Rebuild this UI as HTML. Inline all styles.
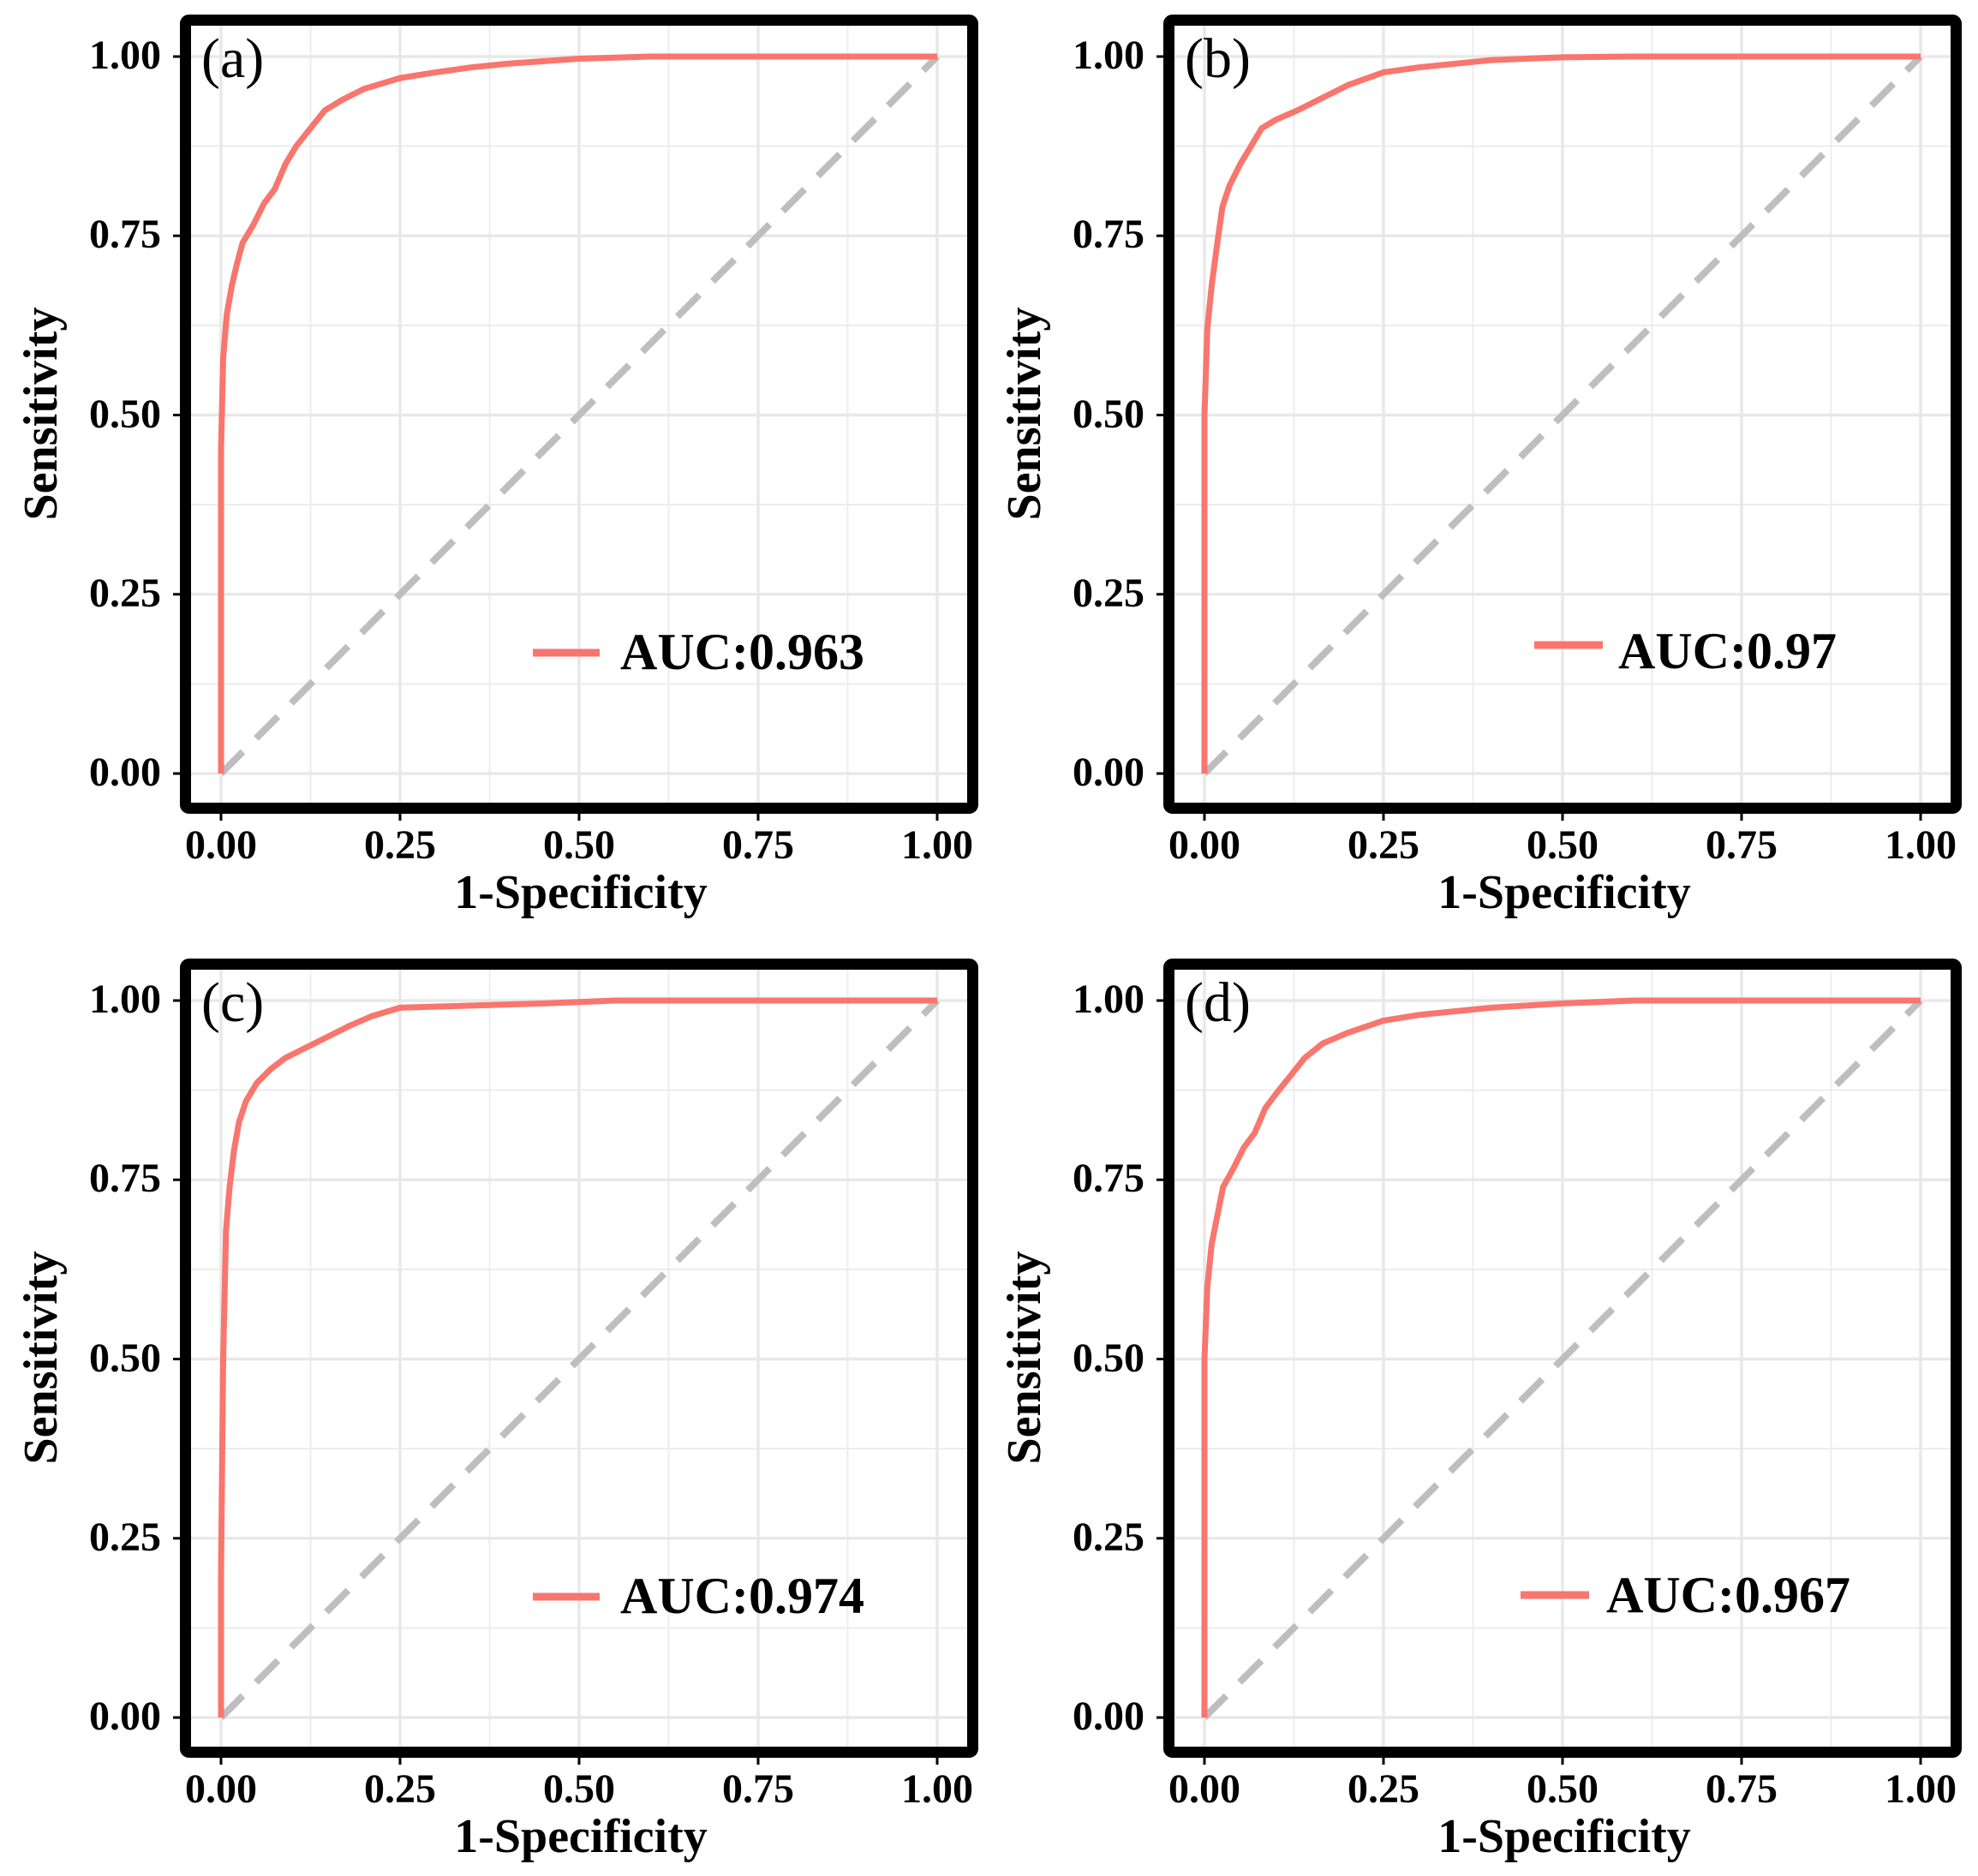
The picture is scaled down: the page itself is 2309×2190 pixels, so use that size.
<!DOCTYPE html>
<html><head><meta charset="utf-8"><style>
html,body{margin:0;padding:0;background:#fff;}
svg{display:block;}
text{font-family:"Liberation Serif","DejaVu Serif",serif;fill:#000;}
.t{font-weight:bold;font-size:48px;}
.ax{font-weight:bold;font-size:56px;}
.lg{font-weight:bold;font-size:60px;}
.pl{font-size:66px;}
</style></head><body>
<svg width="2309" height="2190" viewBox="0 0 2309 2190" xmlns="http://www.w3.org/2000/svg">
<defs>
<g id="frame">
  <rect x="223" y="30" width="906" height="907" fill="#fff"/>
  <g stroke="#ececec" stroke-width="2">
    <line x1="362.5" y1="30" x2="362.5" y2="937"/><line x1="571.5" y1="30" x2="571.5" y2="937"/>
    <line x1="780.5" y1="30" x2="780.5" y2="937"/><line x1="989.5" y1="30" x2="989.5" y2="937"/>
    <line x1="223" y1="798.4" x2="1129" y2="798.4"/><line x1="223" y1="589.1" x2="1129" y2="589.1"/>
    <line x1="223" y1="379.9" x2="1129" y2="379.9"/><line x1="223" y1="170.6" x2="1129" y2="170.6"/>
  </g>
  <g stroke="#e8e8e8" stroke-width="3.5">
    <line x1="258" y1="30" x2="258" y2="937"/><line x1="467" y1="30" x2="467" y2="937"/>
    <line x1="676" y1="30" x2="676" y2="937"/><line x1="885" y1="30" x2="885" y2="937"/>
    <line x1="1094" y1="30" x2="1094" y2="937"/>
    <line x1="223" y1="903" x2="1129" y2="903"/><line x1="223" y1="693.75" x2="1129" y2="693.75"/>
    <line x1="223" y1="484.5" x2="1129" y2="484.5"/><line x1="223" y1="275.25" x2="1129" y2="275.25"/>
    <line x1="223" y1="66" x2="1129" y2="66"/>
  </g>
  <line x1="258" y1="903" x2="1094" y2="66" stroke="#bebebe" stroke-width="8" stroke-dasharray="36 22"/>
  <g stroke="#000" stroke-width="3">
    <line x1="202" y1="903" x2="210" y2="903"/><line x1="202" y1="693.75" x2="210" y2="693.75"/>
    <line x1="202" y1="484.5" x2="210" y2="484.5"/><line x1="202" y1="275.25" x2="210" y2="275.25"/>
    <line x1="202" y1="66" x2="210" y2="66"/>
    <line x1="258" y1="950" x2="258" y2="958"/><line x1="467" y1="950" x2="467" y2="958"/>
    <line x1="676" y1="950" x2="676" y2="958"/><line x1="885" y1="950" x2="885" y2="958"/>
    <line x1="1094" y1="950" x2="1094" y2="958"/>
  </g>
</g>
<g id="border">
  <rect x="216.5" y="23.5" width="919" height="920" rx="4" fill="none" stroke="#000" stroke-width="13"/>
</g>
</defs>

<!-- panel frames -->
<use href="#frame"/>
<use href="#frame" transform="translate(1148,0)"/>
<use href="#frame" transform="translate(0,1102)"/>
<use href="#frame" transform="translate(1148,1102)"/>

<!-- curves -->
<g fill="none" stroke="#f8766d" stroke-width="7" stroke-linejoin="round">
<path vector-effect="non-scaling-stroke" transform="translate(258,903) scale(836,-837)" d="M0,0 L0,0.45 L0.003,0.58 L0.008,0.64 L0.015,0.68 L0.022,0.71 L0.03,0.74 L0.045,0.765 L0.06,0.795 L0.075,0.815 L0.09,0.85 L0.105,0.875 L0.125,0.9 L0.145,0.925 L0.17,0.94 L0.2,0.955 L0.25,0.97 L0.3,0.978 L0.35,0.985 L0.4,0.99 L0.5,0.997 L0.6,1 L1,1"/>
<path vector-effect="non-scaling-stroke" transform="translate(1406,903) scale(836,-837)" d="M0,0 L0,0.5 L0.004,0.62 L0.01,0.68 L0.018,0.74 L0.025,0.79 L0.035,0.82 L0.05,0.85 L0.065,0.875 L0.08,0.9 L0.1,0.912 L0.13,0.925 L0.16,0.94 L0.2,0.96 L0.25,0.978 L0.3,0.985 L0.4,0.995 L0.5,0.999 L0.6,1 L1,1"/>
<path vector-effect="non-scaling-stroke" transform="translate(258,2005) scale(836,-837)" d="M0,0 L0,0.2 L0.003,0.5 L0.007,0.68 L0.012,0.74 L0.018,0.79 L0.025,0.83 L0.035,0.86 L0.05,0.885 L0.07,0.905 L0.09,0.92 L0.12,0.935 L0.15,0.95 L0.18,0.965 L0.21,0.978 L0.25,0.99 L0.35,0.993 L0.45,0.996 L0.55,1 L1,1"/>
<path vector-effect="non-scaling-stroke" transform="translate(1406,2005) scale(836,-837)" d="M0,0 L0,0.5 L0.004,0.6 L0.01,0.66 L0.018,0.7 L0.026,0.74 L0.04,0.765 L0.055,0.795 L0.07,0.815 L0.085,0.85 L0.1,0.87 L0.12,0.895 L0.14,0.92 L0.165,0.94 L0.2,0.955 L0.25,0.972 L0.3,0.98 L0.4,0.99 L0.5,0.996 L0.6,1 L1,1"/>
</g>

<!-- borders -->
<use href="#border"/>
<use href="#border" transform="translate(1148,0)"/>
<use href="#border" transform="translate(0,1102)"/>
<use href="#border" transform="translate(1148,1102)"/>

<!-- legends -->
<g stroke="#f8766d" stroke-width="9">
<line x1="622" y1="762" x2="700" y2="762"/>
<line x1="1791" y1="753" x2="1871" y2="753"/>
<line x1="622" y1="1864" x2="700" y2="1864"/>
<line x1="1775" y1="1862" x2="1855" y2="1862"/>
</g>
<text class="lg" x="724" y="781">AUC:0.963</text>
<text class="lg" x="1889" y="780">AUC:0.97</text>
<text class="lg" x="724" y="1883">AUC:0.974</text>
<text class="lg" x="1875" y="1882">AUC:0.967</text>

<!-- panel labels -->
<text class="pl" x="235" y="90">(a)</text>
<text class="pl" x="1383" y="90">(b)</text>
<text class="pl" x="235" y="1192">(c)</text>
<text class="pl" x="1383" y="1192">(d)</text>

<!-- y tick labels -->
<g class="t" text-anchor="end">
<text x="188" y="917">0.00</text><text x="188" y="708">0.25</text><text x="188" y="499">0.50</text><text x="188" y="289">0.75</text><text x="188" y="80">1.00</text>
<text x="1336" y="917">0.00</text><text x="1336" y="708">0.25</text><text x="1336" y="499">0.50</text><text x="1336" y="289">0.75</text><text x="1336" y="80">1.00</text>
<text x="188" y="2019">0.00</text><text x="188" y="1810">0.25</text><text x="188" y="1601">0.50</text><text x="188" y="1391">0.75</text><text x="188" y="1182">1.00</text>
<text x="1336" y="2019">0.00</text><text x="1336" y="1810">0.25</text><text x="1336" y="1601">0.50</text><text x="1336" y="1391">0.75</text><text x="1336" y="1182">1.00</text>
</g>
<!-- x tick labels -->
<g class="t" text-anchor="middle">
<text x="258" y="1002">0.00</text><text x="467" y="1002">0.25</text><text x="676" y="1002">0.50</text><text x="885" y="1002">0.75</text><text x="1094" y="1002">1.00</text>
<text x="1406" y="1002">0.00</text><text x="1615" y="1002">0.25</text><text x="1824" y="1002">0.50</text><text x="2033" y="1002">0.75</text><text x="2242" y="1002">1.00</text>
<text x="258" y="2104">0.00</text><text x="467" y="2104">0.25</text><text x="676" y="2104">0.50</text><text x="885" y="2104">0.75</text><text x="1094" y="2104">1.00</text>
<text x="1406" y="2104">0.00</text><text x="1615" y="2104">0.25</text><text x="1824" y="2104">0.50</text><text x="2033" y="2104">0.75</text><text x="2242" y="2104">1.00</text>
</g>
<!-- axis titles -->
<g class="ax" text-anchor="middle">
<text x="678" y="1060">1-Specificity</text>
<text x="1826" y="1060">1-Specificity</text>
<text x="678" y="2162">1-Specificity</text>
<text x="1826" y="2162">1-Specificity</text>
<text transform="translate(66,483) rotate(-90)">Sensitivity</text>
<text transform="translate(1214,483) rotate(-90)">Sensitivity</text>
<text transform="translate(66,1585) rotate(-90)">Sensitivity</text>
<text transform="translate(1214,1585) rotate(-90)">Sensitivity</text>
</g>
</svg>
</body></html>
